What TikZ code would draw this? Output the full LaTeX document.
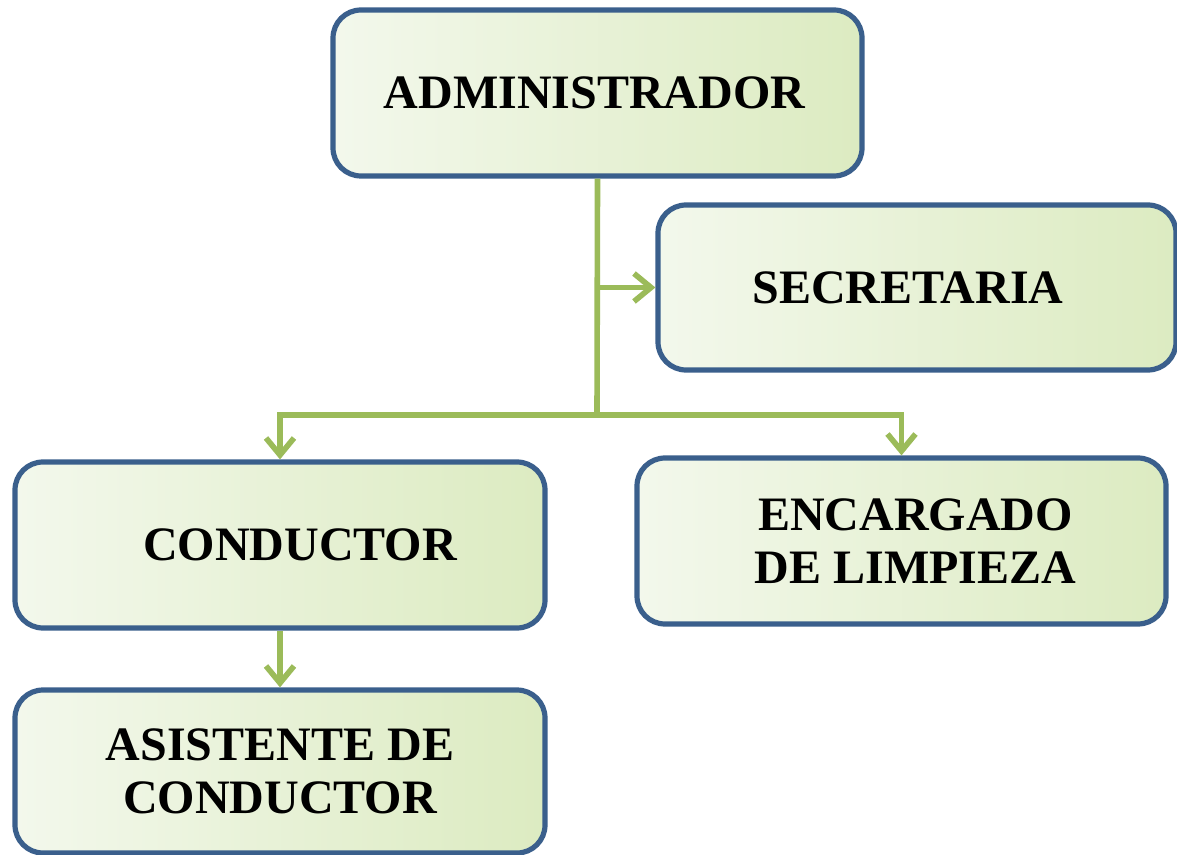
\documentclass[tikz,border=0pt]{standalone}
\usepackage{fontspec}
\setmainfont{Liberation Serif}
\usetikzlibrary{arrows.meta, positioning, calc}

\definecolor{cajaborde}{HTML}{3A5F8C}
\definecolor{cajaizq}{HTML}{F3F8EC}
\definecolor{cajader}{HTML}{DCEBC1}
\definecolor{linea}{HTML}{9BBB59}

\tikzset{
    cargo/.style={draw=cajaborde, line width=2.6pt, rounded corners=14pt,
        left color=cajaizq, right color=cajader,
        align=center, inner sep=0pt,
        font=\fontsize{24}{26.5}\selectfont\bfseries},
    enlace/.style={draw=linea, line width=2.8pt},
    flecha/.style={enlace, -{Straight Barb[length=8.5pt, width=14pt, line width=2.8pt]}}
}

\begin{document}
\begin{tikzpicture}[x=0.5pt, y=-0.5pt]
    \useasboundingbox (0,0) rectangle (1177,855);

    % cajas
    \node[cargo, minimum width=264.5pt, minimum height=83pt] (admin) at (597.5,93) {ADMINISTRADOR\hspace*{3pt}\null};
    \node[cargo, minimum width=259pt, minimum height=82.5pt] (secre) at (917,287.5) {SECRETARIA\hspace*{9pt}\null};
    \node[cargo, minimum width=265pt, minimum height=83pt] (conductor) at (280,545) {\hspace{20pt}CONDUCTOR};
    \node[cargo, minimum width=264.5pt, minimum height=83pt] (encargado) at (901.5,541) {\hspace{14pt}ENCARGADO\\\hspace{14pt}DE LIMPIEZA};
    \node[cargo, minimum width=265pt, minimum height=81.5pt] (asistente) at (280,771.5) {ASISTENTE DE\\CONDUCTOR};

    % conectores
    \coordinate (barra) at (597,415);
    \draw[enlace] (admin.south) -- (barra);
    \draw[flecha] (admin.south |- secre.west) -- (secre.west);
    \draw[flecha] (barra) -| (conductor.north);
    \draw[flecha] (barra) -| (encargado.north);
    \draw[flecha] (conductor.south) -- (asistente.north);
\end{tikzpicture}
\end{document}
